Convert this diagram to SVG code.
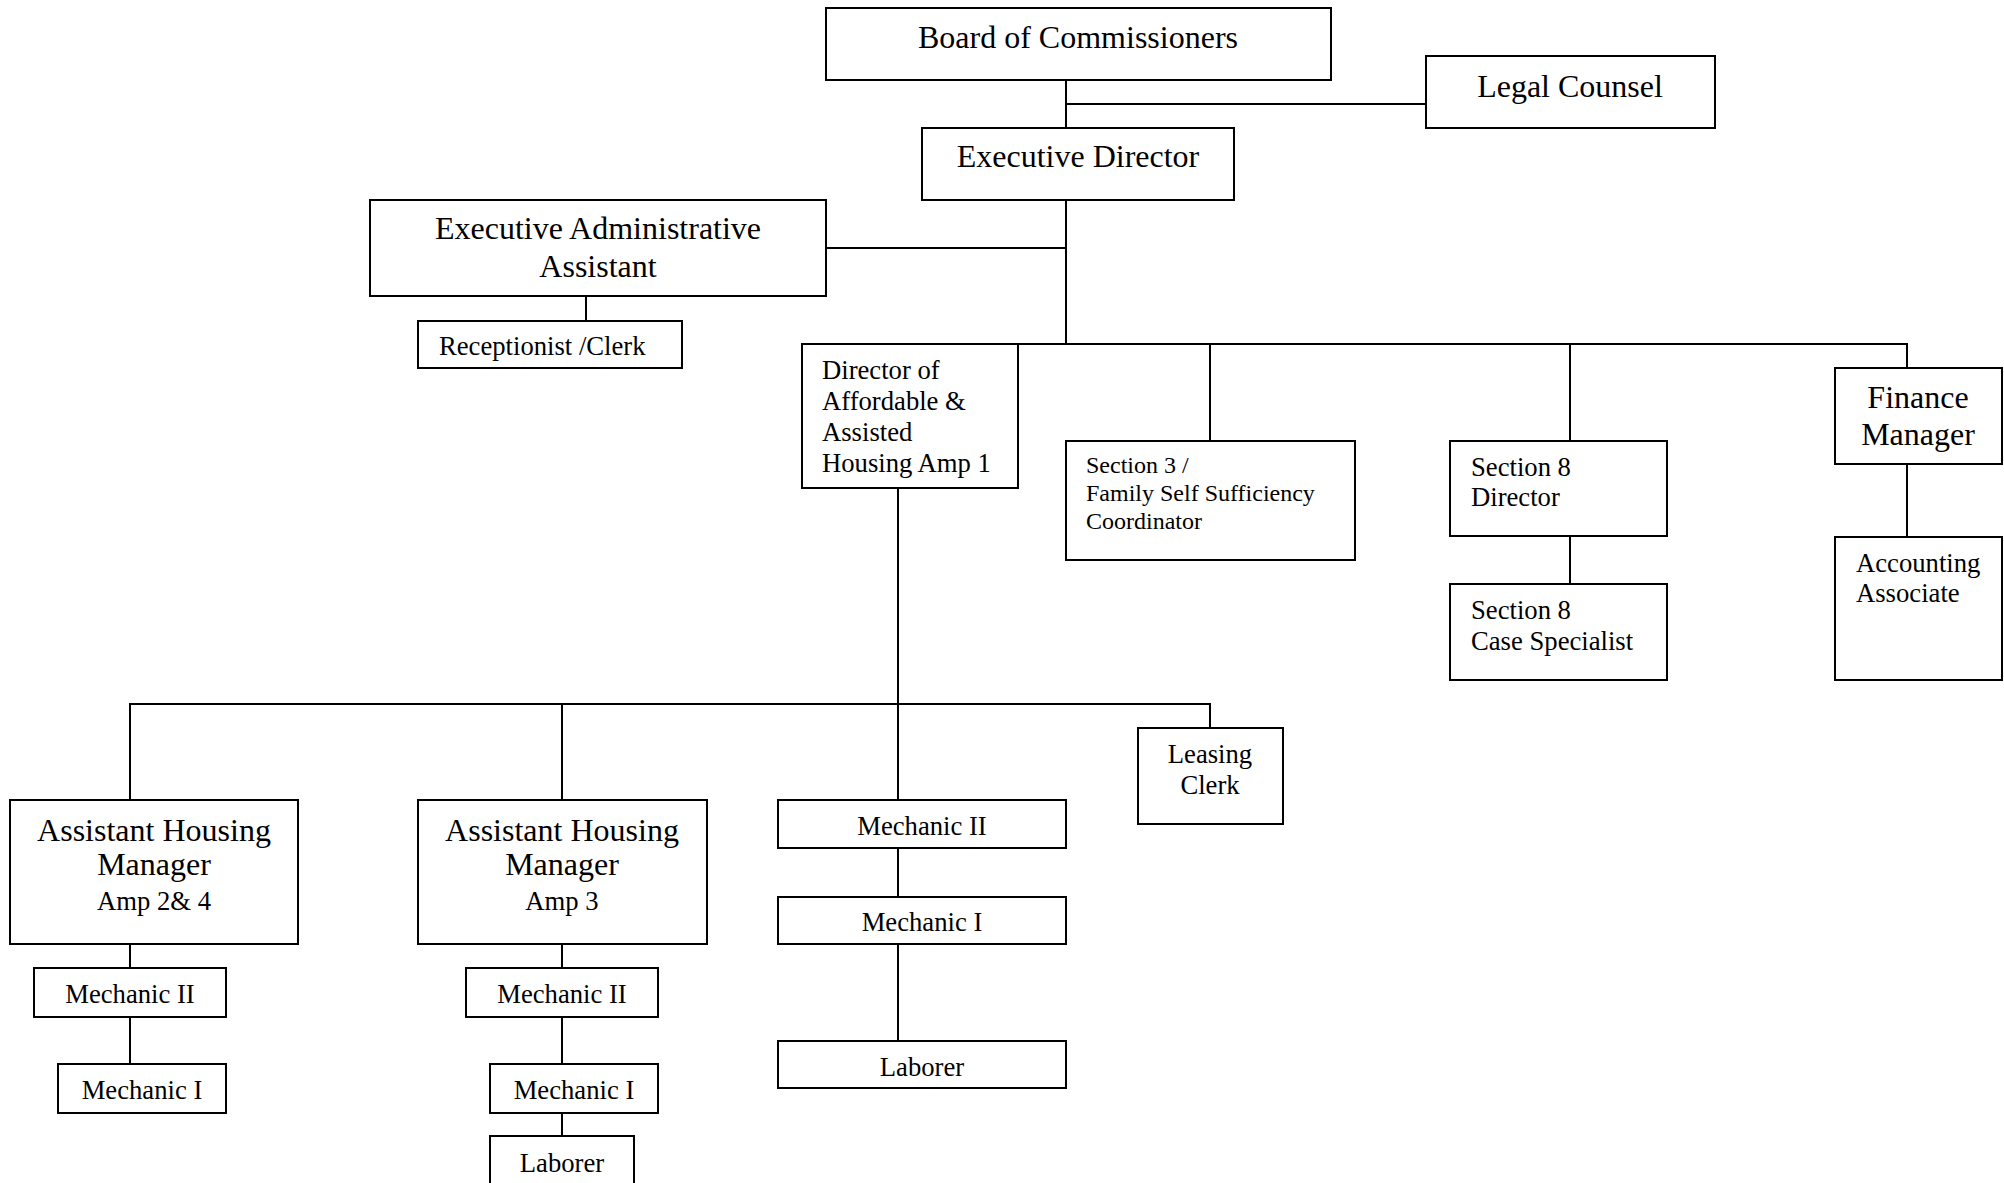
<svg xmlns="http://www.w3.org/2000/svg" width="2004" height="1183" viewBox="0 0 2004 1183">
<style>
  rect { fill: #ffffff; stroke: #000000; stroke-width: 2; }
  .c path, .c line { fill: none; stroke: #000000; stroke-width: 2; }
  text { font-family: "Liberation Serif", "Times New Roman", serif; fill: #000000; }
  .l { font-size: 32px; }
  .m { font-size: 26.67px; }
  .s { font-size: 24px; }
  .mid { text-anchor: middle; }
</style>
<rect x="0" y="0" width="2004" height="1183" style="fill:#ffffff;stroke:none"/>
<g class="c" id="connectors">
  <path d="M1066,80 V128"/>
  <path d="M1066,104 H1426"/>
  <path d="M1066,200 V344"/>
  <path d="M826,248 H1066"/>
  <path d="M586,296 V321"/>
  <path d="M898,344 H1907 V368"/>
  <path d="M1210,344 V441"/>
  <path d="M1570,344 V441"/>
  <path d="M1570,536 V584"/>
  <path d="M1907,464 V537"/>
  <path d="M898,488 V800"/>
  <path d="M130,800 V704 H1210 V728"/>
  <path d="M562,704 V800"/>
  <path d="M130,944 V968"/>
  <path d="M130,1017 V1064"/>
  <path d="M562,944 V968"/>
  <path d="M562,1017 V1064"/>
  <path d="M562,1113 V1136"/>
  <path d="M898,848 V897"/>
  <path d="M898,944 V1041"/>
</g>
<g id="board"><rect x="826" y="8" width="505" height="72"/><text class="l mid" x="1078" y="48">Board of Commissioners</text></g>
<g id="legal"><rect x="1426" y="56" width="289" height="72"/><text class="l mid" x="1570" y="97">Legal Counsel</text></g>
<g id="exec-director"><rect x="922" y="128" width="312" height="72"/><text class="l mid" x="1078" y="167">Executive Director</text></g>
<g id="exec-admin"><rect x="370" y="200" width="456" height="96"/><text class="l mid" x="598" y="239">Executive Administrative</text><text class="l mid" x="598" y="277">Assistant</text></g>
<g id="receptionist"><rect x="418" y="321" width="264" height="47"/><text class="m" x="439" y="355">Receptionist /Clerk</text></g>
<g id="director-housing"><rect x="802" y="344" width="216" height="144"/><text class="m" x="822" y="379">Director of</text><text class="m" x="822" y="410">Affordable &amp;</text><text class="m" x="822" y="441">Assisted</text><text class="m" x="822" y="472">Housing Amp 1</text></g>
<g id="section3"><rect x="1066" y="441" width="289" height="119"/><text class="s" x="1086" y="473">Section 3 /</text><text class="s" x="1086" y="501">Family Self Sufficiency</text><text class="s" x="1086" y="529">Coordinator</text></g>
<g id="s8-director"><rect x="1450" y="441" width="217" height="95"/><text class="m" x="1471" y="476">Section 8</text><text class="m" x="1471" y="506">Director</text></g>
<g id="s8-case"><rect x="1450" y="584" width="217" height="96"/><text class="m" x="1471" y="619">Section 8</text><text class="m" x="1471" y="650">Case Specialist</text></g>
<g id="finance"><rect x="1835" y="368" width="167" height="96"/><text class="l mid" x="1918" y="408">Finance</text><text class="l mid" x="1918" y="445">Manager</text></g>
<g id="accounting"><rect x="1835" y="537" width="167" height="143"/><text class="m" x="1856" y="572">Accounting</text><text class="m" x="1856" y="602">Associate</text></g>
<g id="ahm-24"><rect x="10" y="800" width="288" height="144"/><text class="l mid" x="154" y="841">Assistant Housing</text><text class="l mid" x="154" y="875">Manager</text><text class="m mid" x="154" y="910">Amp 2&amp; 4</text></g>
<g id="ahm-3"><rect x="418" y="800" width="289" height="144"/><text class="l mid" x="562" y="841">Assistant Housing</text><text class="l mid" x="562" y="875">Manager</text><text class="m mid" x="562" y="910">Amp 3</text></g>
<g id="mech2-a"><rect x="34" y="968" width="192" height="49"/><text class="m mid" x="130" y="1003">Mechanic II</text></g>
<g id="mech1-a"><rect x="58" y="1064" width="168" height="49"/><text class="m mid" x="142" y="1099">Mechanic I</text></g>
<g id="mech2-b"><rect x="466" y="968" width="192" height="49"/><text class="m mid" x="562" y="1003">Mechanic II</text></g>
<g id="mech1-b"><rect x="490" y="1064" width="168" height="49"/><text class="m mid" x="574" y="1099">Mechanic I</text></g>
<g id="laborer-b"><rect x="490" y="1136" width="144" height="60"/><text class="m mid" x="562" y="1172">Laborer</text></g>
<g id="mech2-c"><rect x="778" y="800" width="288" height="48"/><text class="m mid" x="922" y="835">Mechanic II</text></g>
<g id="mech1-c"><rect x="778" y="897" width="288" height="47"/><text class="m mid" x="922" y="931">Mechanic I</text></g>
<g id="laborer-c"><rect x="778" y="1041" width="288" height="47"/><text class="m mid" x="922" y="1076">Laborer</text></g>
<g id="leasing"><rect x="1138" y="728" width="145" height="96"/><text class="m mid" x="1210" y="763">Leasing</text><text class="m mid" x="1210" y="794">Clerk</text></g>
</svg>
